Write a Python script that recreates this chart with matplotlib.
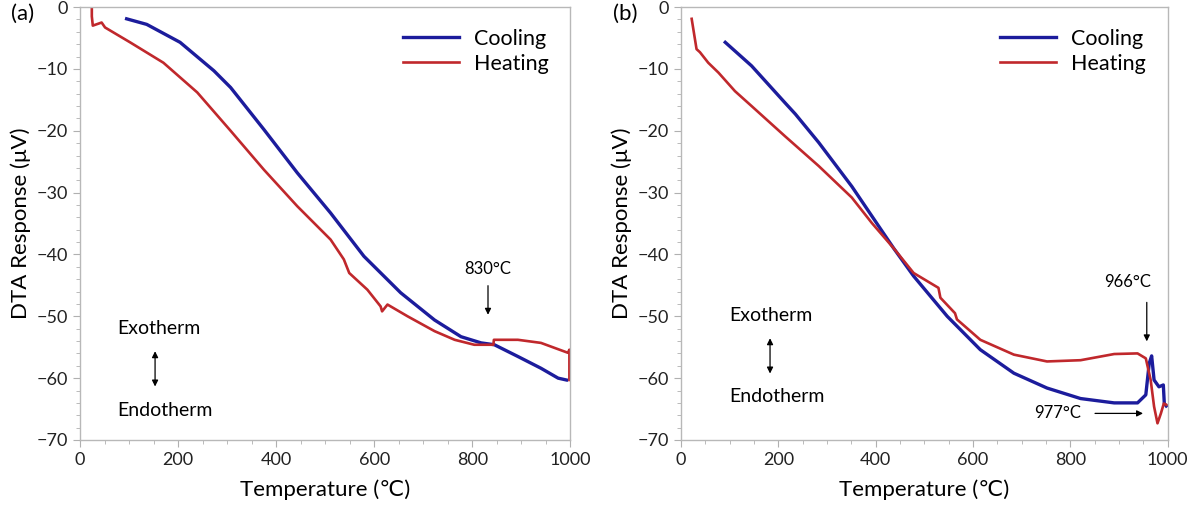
import numpy as np
import matplotlib.pyplot as plt
from matplotlib.ticker import MultipleLocator

plt.rcParams['font.family'] = ['Lato', 'DejaVu Sans']

# (a) heating / cooling curves
a_heat_T = [24, 24, 26, 44, 51, 102, 170, 239, 307, 375, 443, 511, 538, 549, 586, 613, 616,
            627, 668, 723, 764, 804, 843, 844, 893, 940, 995, 998, 998]
a_heat_V = [0, -1.5, -3.0, -2.5, -3.3, -5.7, -9.0, -13.8, -20.0, -26.3, -32.2, -37.6, -40.8,
            -43.0, -45.7, -48.4, -49.2, -48.1, -50.0, -52.4, -53.8, -54.6, -54.6, -53.8,
            -53.8, -54.3, -55.9, -55.4, -60.3]
a_cool_T = [95, 136, 204, 273, 307, 375, 443, 511, 579, 654, 723, 777, 818, 845, 893,
            940, 975, 992]
a_cool_V = [-1.9, -2.8, -5.7, -10.3, -13.0, -19.8, -26.8, -33.3, -40.3, -46.2, -50.6,
            -53.3, -54.3, -54.6, -56.5, -58.4, -60.0, -60.3]

# (b) heating / cooling curves
b_heat_T = [22, 32, 39, 56, 77, 111, 145, 214, 283, 351, 392, 437, 478, 529, 533, 563, 567,
            615, 684, 752, 821, 890, 938, 955, 965, 972, 979, 986, 992, 997]
b_heat_V = [-1.9, -6.8, -7.3, -9.0, -10.6, -13.6, -16.0, -20.9, -25.7, -30.8, -34.9, -39.0,
            -43.0, -45.4, -47.0, -49.5, -50.5, -53.8, -56.2, -57.3, -57.1, -56.1, -56.0,
            -56.8, -60.3, -64.6, -67.3, -65.7, -64.1, -64.3]
b_cool_T = [91, 145, 214, 235, 283, 351, 406, 437, 478, 547, 615, 684, 752, 821, 890, 938,
            955, 962, 967, 972, 982, 991, 993, 997]
b_cool_V = [-5.7, -9.5, -15.5, -17.3, -21.9, -29.0, -35.4, -39.0, -43.5, -50.0, -55.4,
            -59.2, -61.6, -63.3, -64.0, -64.0, -62.7, -57.6, -56.4, -60.3, -61.4, -61.1,
            -64.1, -64.5]

blue = '#1c1c9c'
red = '#c0282c'

fig = plt.figure(figsize=(11.93, 5.16), dpi=100)
ax1 = fig.add_axes([0.0671, 0.1473, 0.411, 0.839])
ax2 = fig.add_axes([0.5708, 0.1473, 0.408, 0.839])


def style(ax):
    ax.set_xlim(0, 1000)
    ax.set_ylim(-70, 0)
    ax.xaxis.set_major_locator(MultipleLocator(200))
    ax.xaxis.set_minor_locator(MultipleLocator(50))
    ax.yaxis.set_major_locator(MultipleLocator(10))
    ax.yaxis.set_minor_locator(MultipleLocator(2))
    for s in ['left', 'bottom', 'right', 'top']:
        ax.spines[s].set_color('#b8b8b8')
        ax.spines[s].set_linewidth(1.0)
    ax.tick_params(which='both', direction='out', color='#b0b0b0', labelsize=13,
                   labelcolor='#222222', right=False, top=False)
    ax.tick_params(which='major', length=5)
    ax.tick_params(which='minor', length=3)
    ax.set_xlabel('Temperature (℃)', fontsize=16, labelpad=8)
    ax.set_ylabel('DTA Response (μV)', fontsize=16, labelpad=4)
    ax.legend(loc='upper right', frameon=False, fontsize=15.5, handlelength=2.6,
              handletextpad=0.7, borderaxespad=0.6, labelspacing=0.25)


ax1.plot(a_cool_T, a_cool_V, color=blue, lw=2.4, label='Cooling')
ax1.plot(a_heat_T, a_heat_V, color=red, lw=1.9, label='Heating')
style(ax1)
ax1.text(-0.14, 0.985, '(a)', transform=ax1.transAxes, fontsize=16, va='center')
ax1.text(832, -42.4, '830°C', ha='center', va='center', fontsize=12)
ax1.annotate('', xy=(832, -50.2), xytext=(832, -44.6),
             arrowprops=dict(arrowstyle='-|>', color='black', lw=0.9, mutation_scale=9))
ax1.text(76, -51.9, 'Exotherm', ha='left', va='center', fontsize=14)
ax1.text(76, -65.2, 'Endotherm', ha='left', va='center', fontsize=14)
ax1.annotate('', xy=(153, -55.2), xytext=(153, -61.8),
             arrowprops=dict(arrowstyle='<|-|>', color='black', lw=0.9, mutation_scale=9))

ax2.plot(b_cool_T, b_cool_V, color=blue, lw=2.4, label='Cooling')
ax2.plot(b_heat_T, b_heat_V, color=red, lw=1.9, label='Heating')
style(ax2)
ax2.text(-0.14, 0.985, '(b)', transform=ax2.transAxes, fontsize=16, va='center')
ax2.text(917, -44.4, '966°C', ha='center', va='center', fontsize=12)
ax2.annotate('', xy=(957, -54.5), xytext=(957, -47.3),
             arrowprops=dict(arrowstyle='-|>', color='black', lw=0.9, mutation_scale=9))
ax2.text(774, -65.7, '977°C', ha='center', va='center', fontsize=12)
ax2.annotate('', xy=(955, -65.7), xytext=(845, -65.7),
             arrowprops=dict(arrowstyle='-|>', color='black', lw=0.9, mutation_scale=9))
ax2.text(99, -49.8, 'Exotherm', ha='left', va='center', fontsize=14)
ax2.text(99, -63.0, 'Endotherm', ha='left', va='center', fontsize=14)
ax2.annotate('', xy=(183, -53.1), xytext=(183, -59.7),
             arrowprops=dict(arrowstyle='<|-|>', color='black', lw=0.9, mutation_scale=9))

fig.savefig('out.png', dpi=100)
